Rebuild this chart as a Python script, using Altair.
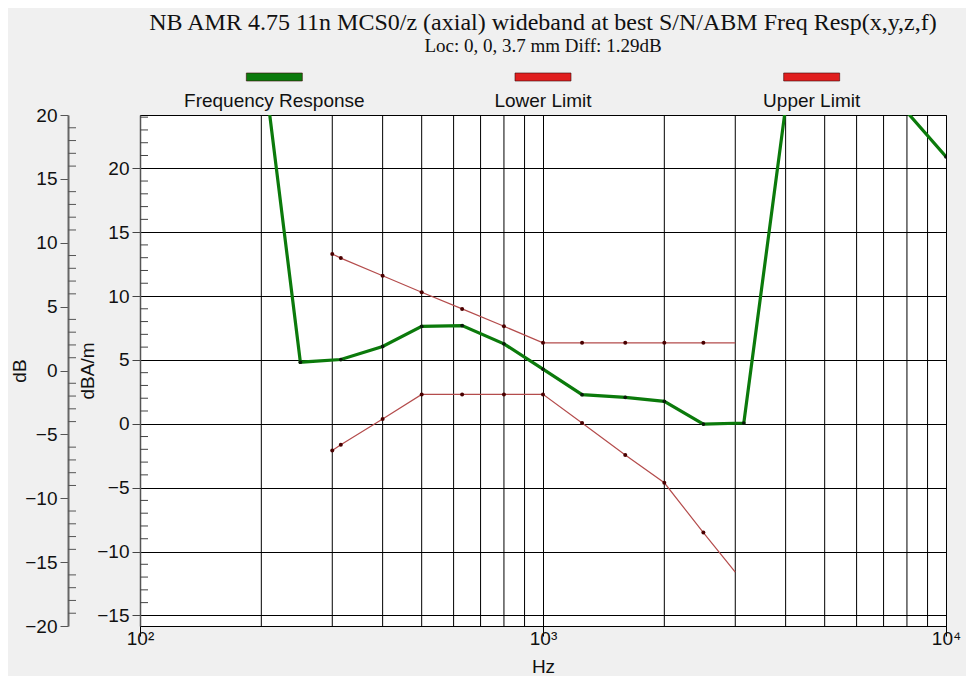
import altair as alt
import pandas as pd

title_text = "NB AMR 4.75 11n MCS0/z (axial) wideband at best S/N/ABM Freq Resp(x,y,z,f)"
subtitle_text = "Loc: 0, 0, 3.7 mm Diff: 1.29dB"

# Frequency response (dBA/m scale)
resp_hz = [200, 250, 315, 400, 500, 630, 800, 1000, 1250, 1600, 2000, 2500, 3150,
           4000, 5000, 6300, 8000, 10000]
resp_val = [29.5, 4.82, 5.03, 6.05, 7.63, 7.69, 6.26, 4.28, 2.28, 2.07, 1.76, -0.02, 0.06,
            24.8, 33.0, 30.0, 24.4, 20.9]

# Limits
limit_hz = [300, 315, 400, 500, 630, 800, 1000, 1250, 1600, 2000, 2500, 3000]
lower_val = [-2.09, -1.65, 0.37, 2.30, 2.30, 2.30, 2.30, 0.06, -2.44, -4.62, -8.52, -11.62]
upper_val = [13.29, 12.97, 11.59, 10.29, 8.99, 7.63, 6.34, 6.34, 6.34, 6.34, 6.34, 6.34]

legend_names = ["Frequency Response", "Lower Limit", "Upper Limit"]
legend_colors = ["#0b7a0b", "#e01e1e", "#e01e1e"]

x_decades = [100, 1000, 10000]
x_minor = [200, 300, 400, 500, 600, 700, 800, 900,
           2000, 3000, 4000, 5000, 6000, 7000, 8000, 9000]
inner_major = [-15, -10, -5, 0, 5, 10, 15, 20]
inner_minor = [v for v in range(-15, 25) if v % 5 != 0]
outer_major = [-20, -15, -10, -5, 0, 5, 10, 15, 20]
outer_minor = [v for v in range(-20, 21) if v % 5 != 0]

resp_df = pd.DataFrame({"hz": resp_hz, "val": resp_val})
lim_df = pd.DataFrame({
    "hz": limit_hz + limit_hz,
    "val": lower_val + upper_val,
    "series": ["Lower Limit"] * len(limit_hz) + ["Upper Limit"] * len(limit_hz),
})
leg_df = pd.DataFrame({"name": legend_names, "color": legend_colors})

x_scale = alt.Scale(type="log", domain=[100, 10000], nice=False)
yi_scale = alt.Scale(domain=[-15.83, 24.17], nice=False, zero=False)
yo_scale = alt.Scale(domain=[-20, 20], nice=False, zero=False)

x_axis = alt.Axis(
    values=x_decades,
    labelExpr="datum.value == 100 ? '10\u00b2' : datum.value == 1000 ? '10\u00b3' : '10\u2074'",
    grid=True, gridColor="#000", gridWidth=1, gridOpacity=1,
    tickSize=10, tickColor="#000", domainColor="#000",
    title="Hz", labelFlush=False, labelPadding=-7, titlePadding=9,
)
yi_axis = alt.Axis(
    values=inner_major, grid=True, gridColor="#000", gridWidth=1, gridOpacity=1,
    tickSize=8, tickColor="#444", domainColor="#555", domainWidth=1.5,
    title="dBA/m", labelPadding=3, titlePadding=-1,
)
yo_axis = alt.Axis(
    orient="left", offset=72, values=outer_major, grid=False,
    tickSize=8, tickColor="#555", domainColor="#666", domainWidth=2,
    title="dB", labelPadding=3, titlePadding=-5,
)

X_none = alt.X("hz:Q", scale=x_scale, axis=None)
Y_none = alt.Y("val:Q", scale=yi_scale, axis=None)

minor_grid = alt.Chart(pd.DataFrame({"hz": x_minor})).mark_rule(
    color="#000", strokeWidth=1
).encode(x=X_none)

limit_lines = alt.Chart(lim_df).mark_line(
    color="#b44c4c", strokeWidth=1.2, clip=True
).encode(
    x=alt.X("hz:Q", scale=x_scale, axis=x_axis),
    y=alt.Y("val:Q", scale=yi_scale, axis=yi_axis),
    detail="series:N",
)

resp_line = alt.Chart(resp_df).mark_line(
    color="#0b7a0b", strokeWidth=3.2, clip=True
).encode(x=X_none, y=Y_none)

limit_pts = alt.Chart(lim_df).transform_filter("datum.hz < 3000").mark_point(
    filled=True, size=16, color="#4a0000", opacity=1, clip=True
).encode(x=X_none, y=Y_none)

resp_pts = alt.Chart(resp_df).mark_point(
    filled=True, size=14, color="#0a1a0a", opacity=1, clip=True
).encode(x=X_none, y=Y_none)

inner_ticks = alt.Chart(pd.DataFrame({"v": inner_minor})).mark_rule(
    color="#444", strokeWidth=1
).encode(x=alt.value(0), x2=alt.value(8), y=alt.Y("v:Q", scale=yi_scale, axis=None))

outer_ticks = alt.Chart(pd.DataFrame({"v": outer_minor})).mark_rule(
    color="#555", strokeWidth=1
).encode(x=alt.value(-72), x2=alt.value(-64), y=alt.Y("v:Q", scale=yo_scale, axis=yo_axis))

leg_x = alt.X("name:N", scale=alt.Scale(type="point", domain=legend_names, padding=0.5), axis=None)

swatch = alt.Chart(leg_df).mark_point(
    shape="M-1,-0.143L1,-0.143L1,0.143L-1,0.143Z", size=3136, filled=True,
    opacity=1, stroke="#3a0a0a", strokeWidth=0.6,
).encode(x=leg_x, y=alt.value(-38), fill=alt.Fill("color:N", scale=None))

legend_text = alt.Chart(leg_df).mark_text(
    font="Liberation Sans", fontSize=19, color="#111", baseline="middle"
).encode(x=leg_x, y=alt.value(-14), text="name:N")

chart = alt.layer(
    minor_grid, limit_lines, resp_line, limit_pts, resp_pts,
    inner_ticks, outer_ticks, swatch, legend_text,
).resolve_scale(
    x="independent", y="independent"
).properties(
    width=806, height=511,
    title=alt.TitleParams(
        text=title_text, subtitle=subtitle_text,
        font="Liberation Serif", fontSize=24, fontWeight="normal", color="#111",
        subtitleFont="Liberation Serif", subtitleFontSize=19, subtitleColor="#111",
        anchor="middle", frame="group", offset=16, subtitlePadding=2,
    ),
    autosize=alt.AutoSizeParams(type="none"),
    padding={"left": 132, "top": 107, "right": 20, "bottom": 50},
    background="#f0f0f0",
).configure_view(
    fill="white", stroke="#000", strokeWidth=1
).configure_axis(
    labelFont="Liberation Sans", labelFontSize=19, labelColor="#111",
    titleFont="Liberation Sans", titleFontSize=19, titleFontWeight="normal", titleColor="#111",
)

chart.save("out.html", embed_options={"renderer": "svg", "actions": False})
